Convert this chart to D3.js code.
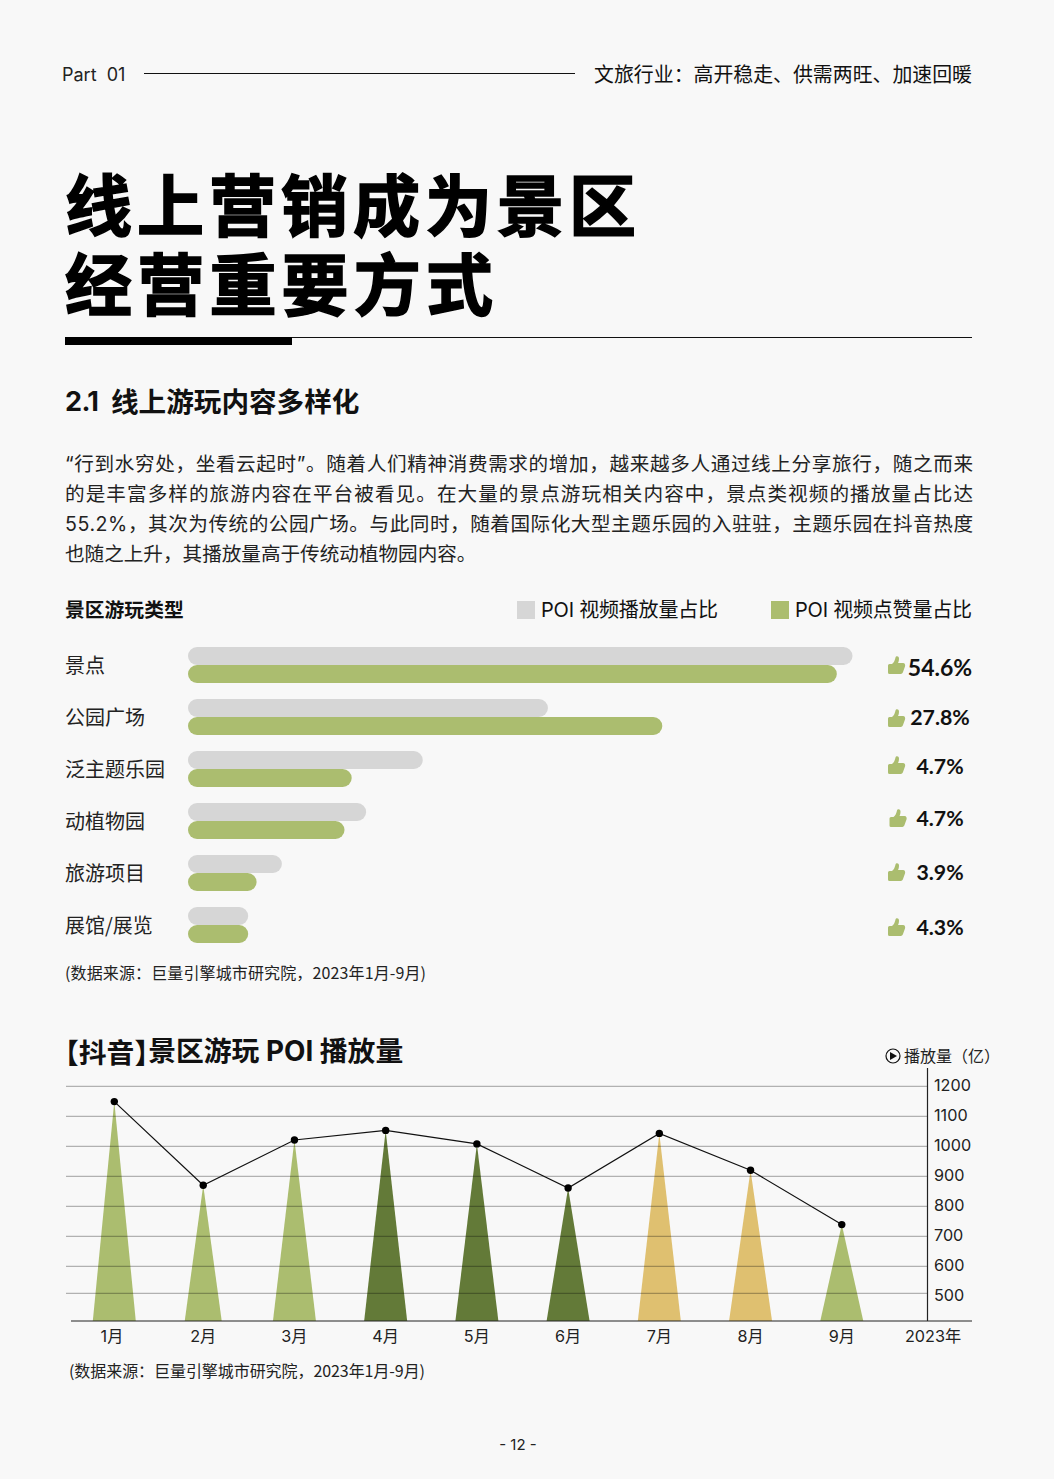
<!DOCTYPE html>
<html>
<head>
<meta charset="utf-8">
<script src="https://cdn.jsdelivr.net/npm/d3@7"></script>
<style>
  html, body { margin: 0; padding: 0; background: #f8f8f8; }
  svg { display: block; }
  text { font-family: "Inter", "Noto Sans CJK SC", sans-serif; fill: #111; }
  .cjk { font-family: "Noto Sans CJK SC", sans-serif; }
  .lato { font-family: "Lato", "Noto Sans CJK SC", sans-serif; }
</style>
</head>
<body>
<svg id="page" width="1054" height="1479"></svg>
<script>
// bar chart data
const categories = ['景点', '公园广场', '泛主题乐园', '动植物园', '旅游项目', '展馆/展览'];
const playShare = [55.2, 29.9, 19.5, 14.8, 7.8, 5.0];
const likeShare = [53.9, 39.4, 13.6, 13.0, 5.7, 5.0];
const likeLabels = ['54.6%', '27.8%', '4.7%', '4.7%', '3.9%', '4.3%'];

// line chart data
const months = ['1月', '2月', '3月', '4月', '5月', '6月', '7月', '8月', '9月', '2023年'];
const plays = [1149, 870, 1021, 1053, 1008, 861, 1043, 920, 739];
const seasons = ['light', 'light', 'light', 'dark', 'dark', 'dark', 'gold', 'gold', 'light'];
const yTicks = [1200, 1100, 1000, 900, 800, 700, 600, 500];
const gridValues = [1200, 1100, 1000, 900, 800, 700, 600, 510];

const bodyLines = [
  '“行到水穷处，坐看云起时”。随着人们精神消费需求的增加，越来越多人通过线上分享旅行，随之而来',
  '的是丰富多样的旅游内容在平台被看见。在大量的景点游玩相关内容中，景点类视频的播放量占比达',
  '55.2%，其次为传统的公园广场。与此同时，随着国际化大型主题乐园的入驻驻，主题乐园在抖音热度',
  '也随之上升，其播放量高于传统动植物园内容。'
];

const GRAY = '#d6d6d6', GREEN = '#abbd6f';
const seasonColor = { light: GREEN, dark: '#637a38', gold: '#dfc070' };
const svg = d3.select('#page');

svg.append('rect').attr('width', 1054).attr('height', 1479).attr('fill', '#f8f8f8');

function label(x, y, str, size, opts = {}) {
  const t = svg.append('text')
    .attr('x', x).attr('y', y)
    .attr('dominant-baseline', 'central')
    .attr('font-size', size)
    .attr('font-weight', opts.weight || 400)
    .attr('text-anchor', opts.anchor || 'start')
    .text(str);
  if (opts.fit) t.attr('textLength', opts.fit).attr('lengthAdjust', 'spacing');
  if (opts.cls) t.attr('class', opts.cls);
  return t;
}

// header
label(62, 74.5, 'Part  01', 18).style('white-space', 'pre').style('fill', '#222');
svg.append('line').attr('x1', 144).attr('x2', 575).attr('y1', 73.5).attr('y2', 73.5).attr('stroke', '#111');
label(972, 73, '文旅行业：高开稳走、供需两旺、加速回暖', 19.9, { anchor: 'end', cls: 'cjk' });

// title, bold with a thin outline to get the weight of the original
[['线上营销成为景区', 201.5, 571], ['经营重要方式', 280.5, 428]].forEach(([str, y, fit]) => {
  label(65, y, str, 67, { weight: 700, cls: 'cjk', fit })
    .style('fill', '#000').attr('stroke', '#000').attr('stroke-width', 1.6);
});
svg.append('line').attr('x1', 65).attr('x2', 972).attr('y1', 337.5).attr('y2', 337.5).attr('stroke', '#111');
svg.append('rect').attr('x', 65).attr('y', 337).attr('width', 227).attr('height', 8).attr('fill', '#000');

label(65, 401, '2.1', 27, { weight: 700 }).attr('textLength', 34);
label(111, 400, '线上游玩内容多样化', 27.6, { weight: 700, cls: 'cjk' });

bodyLines.forEach((line, i) => {
  label(65, 463.5 + i * 30, line, 19.6, { fit: i < 3 ? 908 : null }).style('fill', '#222');
});

// bar chart
label(65, 608, '景区游玩类型', 19.8, { weight: 700, cls: 'cjk' });
svg.append('rect').attr('x', 517).attr('y', 601).attr('width', 18).attr('height', 18).attr('fill', GRAY);
label(541, 609.5, 'POI 视频播放量占比', 20, { fit: 177 });
svg.append('rect').attr('x', 771).attr('y', 601).attr('width', 18).attr('height', 18).attr('fill', GREEN);
label(795, 609.5, 'POI 视频点赞量占比', 20, { fit: 177 });

const xBar = d3.scaleLinear().domain([0, 55.2]).range([188, 852.5]);
const yBar = d3.scaleBand().domain(categories).range([647, 943]).paddingInner(16 / 52);
const BAR_H = 18;
const rowMid = d => yBar(d) + yBar.bandwidth() / 2;

svg.append('g').selectAll('rect').data(categories).join('rect')
  .attr('x', xBar(0))
  .attr('y', d => rowMid(d) - BAR_H)
  .attr('width', (d, i) => xBar(playShare[i]) - xBar(0))
  .attr('height', BAR_H).attr('rx', 9).attr('fill', GRAY);

svg.append('g').selectAll('rect').data(categories).join('rect')
  .attr('x', xBar(0))
  .attr('y', rowMid)
  .attr('width', (d, i) => xBar(likeShare[i]) - xBar(0))
  .attr('height', BAR_H).attr('rx', 9).attr('fill', GREEN);

categories.forEach(c => label(65, rowMid(c) - 1, c, 20, { cls: 'cjk' }).style('fill', '#222'));

// the like labels and thumbs sit a little unevenly next to their rows
const labelNudge = [2, 0, -3, -3, -1, 2];
const thumbNudgeX = [0, 0, 0, 1.5, 0, 0];
const thumbNudgeY = [-1, 2, 0, 1, 1, 1];
const THUMB = 'M0.5 9.5 Q0.5 8 2 8 H4.5 C6.5 6.5 7.5 4 8 1.5 C8.3 -0.3 11.5 -0.3 11.5 2.5 ' +
  'C11.5 4.5 11 6 10.5 7 H15.5 C17.5 7 18 9 17.5 10.5 L15.5 16 C15 17.5 14 18 12.5 18 H2 Q0.5 18 0.5 16.5 Z';
categories.forEach((c, i) => {
  const y = rowMid(c) + labelNudge[i];
  svg.append('path').attr('d', THUMB).attr('fill', GREEN)
    .attr('transform', `translate(${887.5 + thumbNudgeX[i]},${y - 10 + thumbNudgeY[i]})`);
  label(940, y, likeLabels[i], i === 0 ? 23 : 21.3, { weight: 700, anchor: 'middle', cls: 'lato' });
});

label(65, 972, '(数据来源：巨量引擎城市研究院，2023年1月-9月)', 16, { cls: 'cjk', fit: 361 }).style('fill', '#222');

// line chart, the closing bracket is pulled in so the heading reads tight
const heading = svg.append('text').attr('x', 51).attr('y', 1050.5)
  .attr('dominant-baseline', 'central').attr('font-size', 27.8).attr('font-weight', 700);
heading.append('tspan').attr('class', 'cjk').text('【抖音】');
heading.append('tspan').attr('dx', -14).text('景区游玩 POI 播放量');

const xMonth = d3.scalePoint().domain(months).range([112, 933]);
const yPlay = d3.scaleLinear().domain([1200, 600]).range([1086.3, 1266.3]);
const BASE = 1321;

// January peak stands slightly right of its label, February's spike is narrower
const peakShift = { '1月': 2.3 };
const peakBase = { '2月': 37 };
const peakX = (d, i) => xMonth(months[i]) + (peakShift[months[i]] || 0);

svg.append('g').selectAll('path').data(plays).join('path')
  .attr('d', (d, i) => {
    const cx = peakX(d, i), half = (peakBase[months[i]] || 43) / 2;
    return d3.line()([[cx - half, BASE], [cx, yPlay(d)], [cx + half, BASE]]) + 'Z';
  })
  .attr('fill', (d, i) => seasonColor[seasons[i]]);

svg.append('g').selectAll('line').data(gridValues).join('line')
  .attr('x1', 66).attr('x2', 927)
  .attr('y1', d => yPlay(d)).attr('y2', d => yPlay(d))
  .attr('stroke', '#000').attr('stroke-opacity', 0.36).attr('stroke-width', 1);

svg.append('path').datum(plays)
  .attr('d', d3.line().x(peakX).y(d => yPlay(d)))
  .attr('fill', 'none').attr('stroke', '#111').attr('stroke-width', 1.2);

svg.append('g').selectAll('circle').data(plays).join('circle')
  .attr('cx', peakX).attr('cy', d => yPlay(d)).attr('r', 3.7).attr('fill', '#000');

// axes
svg.append('line').attr('x1', 71).attr('x2', 972).attr('y1', BASE).attr('y2', BASE).attr('stroke', '#222').attr('stroke-width', 1.2);
svg.append('line').attr('x1', 927.5).attr('x2', 927.5).attr('y1', 1068).attr('y2', BASE).attr('stroke', '#222').attr('stroke-width', 1.2);

yTicks.forEach(v => label(934, yPlay(v) - 1, v, 16.2).style('fill', '#222'));
months.forEach(m => label(xMonth(m), 1336, m, 16.2, { anchor: 'middle' }).style('fill', '#222'));

svg.append('circle').attr('cx', 893).attr('cy', 1056).attr('r', 7).attr('fill', 'none').attr('stroke', '#111').attr('stroke-width', 1.2);
svg.append('path').attr('d', d3.line()([[890, 1052], [897, 1056], [890, 1060]]) + 'Z').attr('fill', '#111');
label(904, 1055, '播放量（亿）', 16, { cls: 'cjk' }).style('fill', '#222');

label(69, 1370, '(数据来源：巨量引擎城市研究院，2023年1月-9月)', 16, { cls: 'cjk', fit: 356 }).style('fill', '#222');
label(518, 1444, '- 12 -', 15, { anchor: 'middle' }).style('fill', '#222');
</script>
</body>
</html>
